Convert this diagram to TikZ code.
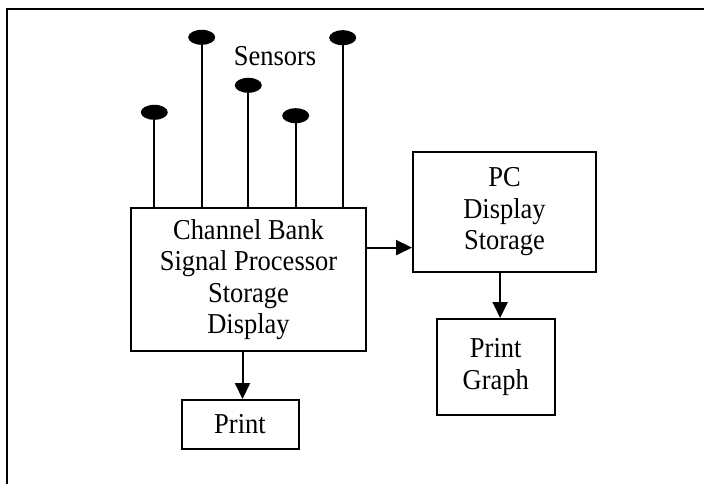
\documentclass[tikz,border=0pt]{standalone}
\usepackage{fontspec}
\setmainfont{Liberation Serif}[FakeStretch=0.92]
\usetikzlibrary{arrows.meta,calc,shapes.geometric}

\tikzset{
  txt/.style={font=\fontsize{14.4}{15.75}\selectfont},
  unit/.style={draw, line width=1pt, align=center, inner sep=0pt, txt},
  arr/.style={line width=1pt, -{Triangle[width=7.5pt,length=8pt]}},
  stem/.style={line width=1pt},
  probe/.style={ellipse, fill=black, minimum width=13.5pt, minimum height=7.5pt, inner sep=0pt},
}

\begin{document}
\begin{tikzpicture}[x=0.5pt, y=-0.5pt]
  \useasboundingbox (0,0) rectangle (704,483);
  % open outer frame, running off the page to the right and below
  \draw[line width=1pt] (6.7,495) -- (6.7,9) -- (715,9);

  % processing units
  \node[unit, minimum width=117.5pt, minimum height=71.5pt] (main) at (248.5,279.5)
    {Channel Bank\\Signal Processor\\Storage\\Display};
  \node[unit, minimum width=91.5pt, minimum height=60pt] (pc) at (504.5,212)
    {PC\\Display\\Storage};
  \node[unit, minimum width=59.25pt, minimum height=48pt] (graph) at (495.75,367)
    {Print\\Graph};
  \node[unit, minimum width=58.5pt, minimum height=24.5pt] (print) at (240,424.5)
    {Print};

  % sensors on stems feeding the channel bank
  \foreach \i/\x/\y in {1/154.3/112.3, 2/201.7/37.3, 3/248.3/85.3, 4/295.7/115.7, 5/342.7/37.7} {
    \node[probe] (s\i) at (\x,\y) {};
    \draw[stem] (s\i.center) -- (s\i.center |- main.north);
  }
  \node[txt] (lbl) at (275,56) {Sensors};

  % signal flow
  \draw[arr] ($(main.north east)!0.28!(main.south east)$) coordinate (m2p) -- (m2p -| pc.west);
  \draw[arr] ([xshift=1.25pt]print.north |- main.south) -- ([xshift=1.25pt]print.north);
  \coordinate (pg) at ($(pc.south)!0.5!(graph.north)$);
  \draw[arr] (pg |- pc.south) -- (pg |- graph.north);
\end{tikzpicture}
\end{document}
